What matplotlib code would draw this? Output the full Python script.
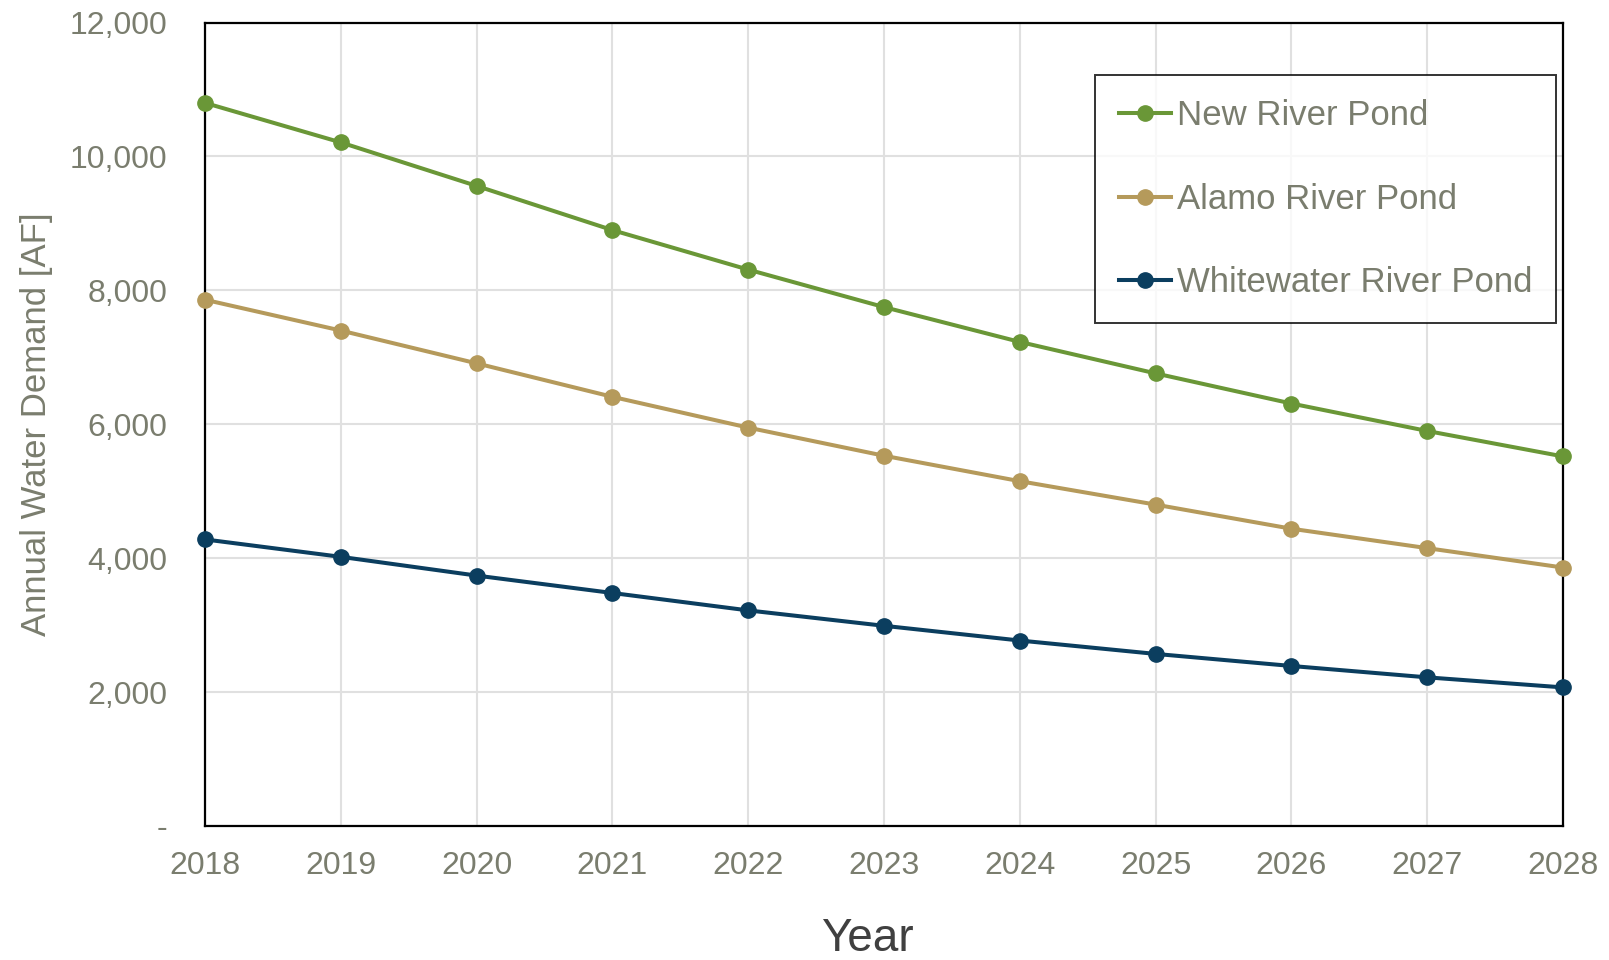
import matplotlib
matplotlib.use("Agg")
import matplotlib.pyplot as plt
from matplotlib.ticker import FuncFormatter

# data
years = [2018, 2019, 2020, 2021, 2022, 2023, 2024, 2025, 2026, 2027, 2028]
new_river = [10800, 10210, 9560, 8900, 8310, 7750, 7230, 6760, 6310, 5900, 5520]
alamo_river = [7860, 7400, 6910, 6410, 5950, 5530, 5150, 4800, 4440, 4150, 3860]
whitewater_river = [4280, 4020, 3740, 3480, 3220, 2990, 2770, 2570, 2390, 2220, 2070]
series_names = ['New River Pond', 'Alamo River Pond', 'Whitewater River Pond']
series_colors = ['#6a9737', '#b59a5b', '#0b3e5f']

tick_color = '#7a7d6e'
plt.rcParams['font.family'] = ['Liberation Sans', 'DejaVu Sans']

fig = plt.figure(figsize=(16.09, 9.6), dpi=100)
ax = fig.add_axes([0.1274, 0.1396, 0.9714 - 0.1274, 0.9765 - 0.1396])

for vals, name, col in zip([new_river, alamo_river, whitewater_river], series_names, series_colors):
    ax.plot(years, vals, color=col, lw=2.9, marker='o', markersize=11, label=name,
            clip_on=False, zorder=3)

ax.set_xlim(2018, 2028)
ax.set_ylim(0, 12000)
ax.set_xticks(years)
ax.set_yticks(range(0, 12001, 2000))
# excel accounting style: zero shown as a dash
ax.yaxis.set_major_formatter(FuncFormatter(lambda v, p: '-' if v == 0 else f'{int(v):,}'))
ax.grid(True, color='#e0e0e0', lw=1.5)
ax.set_axisbelow(True)
ax.tick_params(length=0, labelsize=23, colors=tick_color)
ax.tick_params(axis='y', pad=27)
ax.tick_params(axis='x', pad=18)
for sp in ax.spines.values():
    sp.set_color('black')
    sp.set_linewidth(1.6)

ax.set_xlabel('Year', fontsize=33, color='#404040', labelpad=26)
ax.xaxis.label.set_x(0.488)
ax.set_ylabel('Annual Water Demand [AF]', fontsize=25, color=tick_color, labelpad=12)

leg = ax.legend(loc='upper left', bbox_to_anchor=(1095 / 1609, 1 - 75 / 960),
                bbox_transform=fig.transFigure, fontsize=25, frameon=True, fancybox=False,
                edgecolor='black', handlelength=1.5, handletextpad=0.15, labelspacing=1.45,
                borderpad=0.7, borderaxespad=0)
leg.get_frame().set_linewidth(1.4)
for t in leg.get_texts():
    t.set_color(tick_color)

fig.savefig('out.png', dpi=100)
